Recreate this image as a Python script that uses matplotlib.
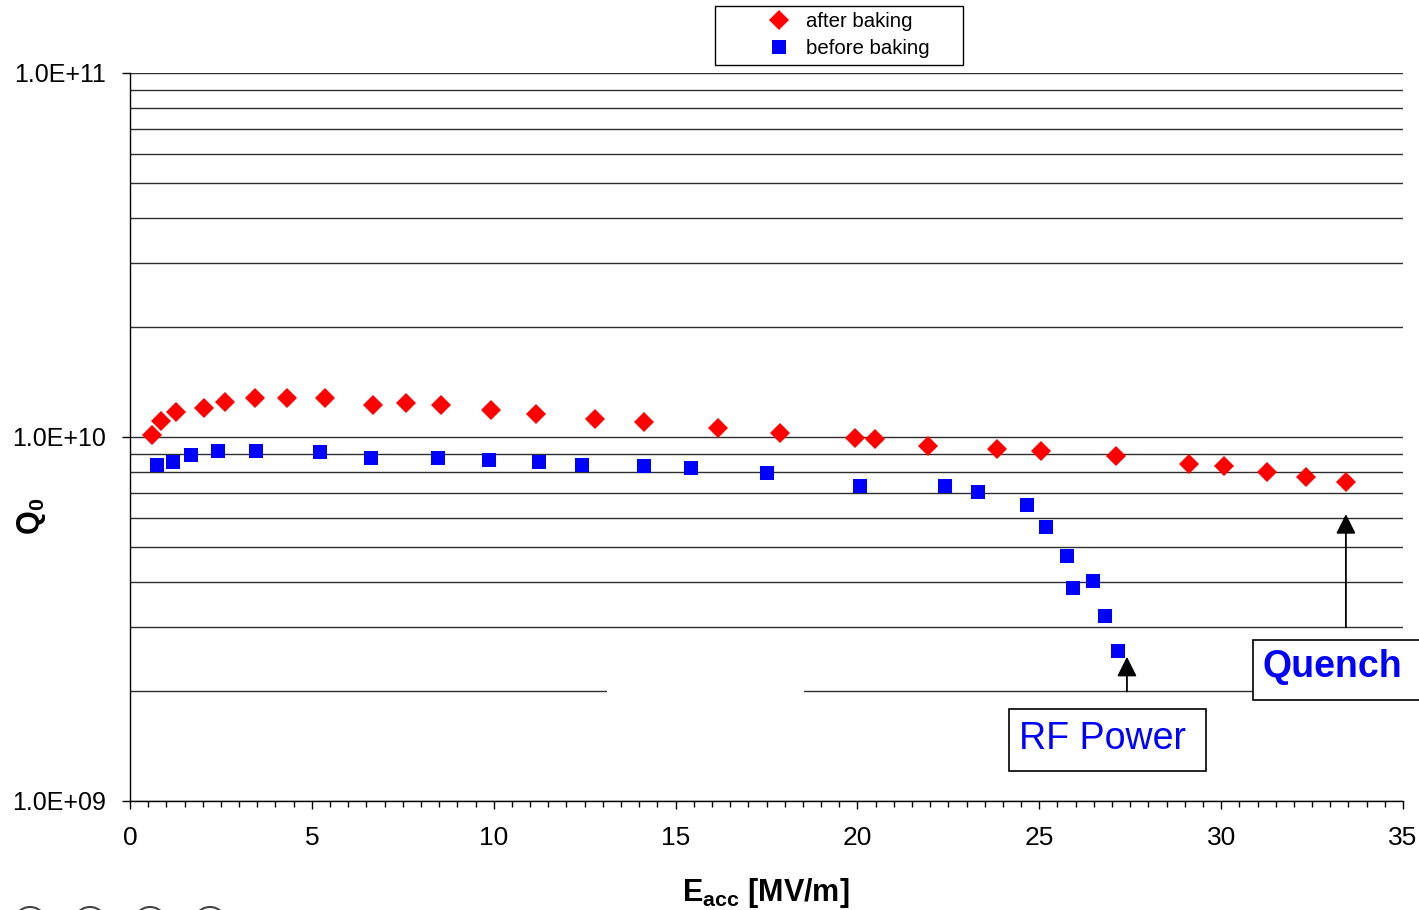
import matplotlib
matplotlib.use("Agg")
import matplotlib.pyplot as plt
import numpy as np
from matplotlib.ticker import LogLocator, MultipleLocator, FuncFormatter, NullFormatter
from matplotlib.patches import Rectangle, Ellipse

plt.rcParams['font.family'] = ['Liberation Sans', 'DejaVu Sans']
plt.rcParams['mathtext.fontset'] = 'custom'
plt.rcParams['mathtext.rm'] = 'Liberation Sans'
plt.rcParams['mathtext.bf'] = 'Liberation Sans:bold'

# Q0 vs accelerating gradient, after baking
e_after = [0.60, 0.85, 1.26, 2.03, 2.61, 3.44, 4.32, 5.36, 6.68, 7.59, 8.55, 9.93,
           11.16, 12.79, 14.13, 16.17, 17.87, 19.93, 20.48, 21.94, 23.84, 25.05,
           27.11, 29.12, 30.08, 31.26, 32.33, 33.43]
q_after = [1.01e10, 1.107e10, 1.175e10, 1.198e10, 1.248e10, 1.277e10, 1.277e10, 1.277e10,
           1.223e10, 1.237e10, 1.223e10, 1.185e10, 1.154e10, 1.119e10, 1.097e10,
           1.059e10, 1.025e10, 0.994e10, 0.987e10, 0.945e10, 0.927e10, 0.915e10,
           0.887e10, 0.843e10, 0.833e10, 0.800e10, 0.776e10, 0.752e10]

# before baking
e_before = [0.74, 1.18, 1.68, 2.42, 3.46, 5.22, 6.63, 8.47, 9.87, 11.25, 12.43, 14.13,
            15.42, 17.51, 20.07, 22.41, 23.32, 24.66, 25.19, 25.76, 25.93, 26.48,
            26.81, 27.16]
q_before = [0.838e10, 0.854e10, 0.892e10, 0.915e10, 0.915e10, 0.909e10, 0.876e10, 0.876e10,
            0.865e10, 0.854e10, 0.838e10, 0.833e10, 0.822e10, 0.796e10, 0.733e10,
            0.733e10, 0.706e10, 0.651e10, 0.566e10, 0.471e10, 0.385e10, 0.402e10,
            0.322e10, 0.258e10]

W, H = 1419, 910
fig = plt.figure(figsize=(W / 100, H / 100), dpi=100)
ax = fig.add_axes([130 / W, 1 - 801 / H, (1403 - 130) / W, (801 - 73) / H])

ax.set_yscale('log')
ax.set_xlim(0, 35)
ax.set_ylim(1e9, 1e11)

ax.plot(e_after, q_after, ls='none', marker='D', ms=9.8, color='#ff0000', mew=0,
        label='after baking', zorder=3)
ax.plot(e_before, q_before, ls='none', marker='s', ms=9.8, color='#0000ff', mew=0,
        label='before baking', zorder=3)

# axes / grid
ax.set_axisbelow(True)
ax.yaxis.set_major_locator(LogLocator(base=10, numticks=5))
ax.yaxis.set_minor_locator(LogLocator(base=10, subs=np.arange(2, 10), numticks=20))
ax.yaxis.set_major_formatter(FuncFormatter(lambda v, p: f'{v:.1E}'))
ax.yaxis.set_minor_formatter(NullFormatter())
ax.grid(True, which='both', axis='y', color='#2e2e2e', lw=1.0)
ax.xaxis.set_major_locator(MultipleLocator(5))
ax.xaxis.set_minor_locator(MultipleLocator(0.5))

for s in ['top', 'right']:
    ax.spines[s].set_visible(False)
for s in ['left', 'bottom']:
    ax.spines[s].set_color('black')
    ax.spines[s].set_linewidth(1.0)

ax.tick_params(axis='y', which='major', length=6, width=1, pad=11, labelsize=18)
ax.tick_params(axis='y', which='minor', length=0)
ax.tick_params(axis='x', which='major', length=6, width=1, pad=12, labelsize=19)
ax.tick_params(axis='x', which='minor', length=4, width=1)

# gap in the 2E+09 line
ax.add_patch(Rectangle((13.12, 1.9e9), 18.53 - 13.12, 0.2e9, facecolor='white',
                       edgecolor='none', zorder=1))

# arrows
arrow_style = dict(arrowstyle='-|>', color='black', lw=1.3, mutation_scale=30,
                   shrinkA=0, shrinkB=0)
ax.annotate('', xy=(27.41, 2.49e9), xytext=(27.41, 2.0e9), arrowprops=arrow_style, zorder=4)
ax.annotate('', xy=(33.43, 6.14e9), xytext=(33.43, 3.0e9), arrowprops=arrow_style, zorder=4)

# labels
fig.text(766 / W, 1 - 901 / H, r'$\mathbf{E_{acc}}$ [MV/m]', ha='center', va='baseline',
         fontsize=22, fontweight='bold')
fig.text(31 / W, 1 - 516 / H, r'$\mathbf{Q_0}$', rotation=90, ha='center', va='center',
         fontsize=22, fontweight='bold')

# annotation boxes
fig.add_artist(Rectangle((1009 / W, 1 - 771 / H), 197 / W, 62 / H, transform=fig.transFigure,
                         facecolor='white', edgecolor='black', lw=1.2, zorder=5))
fig.text(1019 / W, 1 - 739 / H, 'RF Power', color='#0000ff', fontsize=27,
         ha='left', va='center', zorder=6)
fig.add_artist(Rectangle((1253 / W, 1 - 700 / H), 200 / W, 60 / H, transform=fig.transFigure,
                         facecolor='white', edgecolor='black', lw=1.2, zorder=5,
                         clip_on=False))
fig.text(1263 / W, 1 - 667 / H, 'Quench', color='#0000ff', fontsize=27, fontweight='bold',
         ha='left', va='center', zorder=6)

# legend with its own frame
fig.add_artist(Rectangle((715 / W, 1 - 65 / H), 248 / W, 59 / H, transform=fig.transFigure,
                         facecolor='white', edgecolor='black', lw=1.0, zorder=5))
handles, labels = ax.get_legend_handles_labels()
leg = fig.legend(handles, labels, loc='center left', bbox_to_anchor=(768.6 / W, 1 - 35 / H),
                 frameon=False, fontsize=14.7, handlelength=1.0, handletextpad=0.82,
                 labelspacing=0.42, borderpad=0, borderaxespad=0)
leg.set_zorder(6)

# row of circles cut by the bottom edge
for cx in [30, 90, 150, 210]:
    fig.add_artist(Ellipse((cx / W, -13 / H), 32 / W, 32 / H, transform=fig.transFigure,
                           facecolor='none', edgecolor='#444444', lw=1.5, clip_on=False))

fig.savefig('out.png', dpi=100)
